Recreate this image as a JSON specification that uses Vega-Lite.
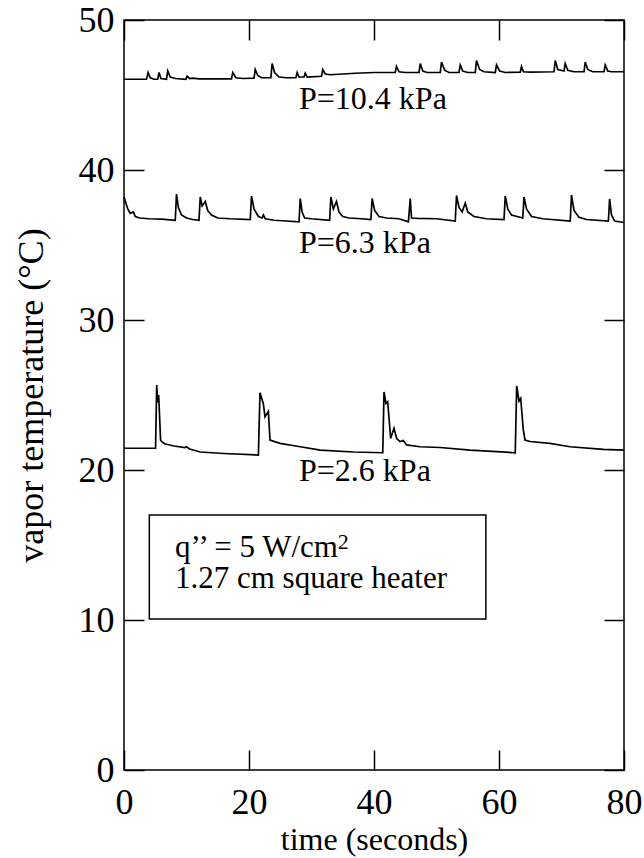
{
  "$schema": "https://vega.github.io/schema/vega-lite/v6.json",
  "width": 500,
  "height": 750,
  "autosize": {"type": "none"},
  "padding": {"left": 124, "top": 20, "right": 20, "bottom": 88},
  "background": "white",
  "config": {
    "font": "Liberation Serif, DejaVu Serif, serif",
    "view": {"stroke": "black", "strokeWidth": 1.5},
    "text": {"font": "Liberation Serif, DejaVu Serif, serif"},
    "axis": {
      "grid": false,
      "domain": false,
      "labelFont": "Liberation Serif, DejaVu Serif, serif",
      "titleFont": "Liberation Serif, DejaVu Serif, serif",
      "labelColor": "black",
      "titleColor": "black",
      "tickColor": "black",
      "tickWidth": 1.5,
      "tickSize": -20,
      "labelFontSize": 36,
      "titleFontSize": 32,
      "titleFontWeight": "normal",
      "labelFlush": false
    }
  },
  "datasets": {
    "series": [
      {"s":"a","t":0,"T":46.05},{"s":"a","t":3.6,"T":46.05},{"s":"a","t":3.85,"T":46.5},{"s":"a","t":4.2,"T":46.15},{"s":"a","t":4.8,"T":46.05},{"s":"a","t":5.4,"T":46.05},{"s":"a","t":5.6,"T":46.5},{"s":"a","t":5.9,"T":46.1},{"s":"a","t":6.8,"T":46.05},{"s":"a","t":7.0,"T":46.6},{"s":"a","t":7.4,"T":46.2},{"s":"a","t":8.2,"T":46.1},{"s":"a","t":9.9,"T":46.05},{"s":"a","t":10.1,"T":46.25},{"s":"a","t":10.5,"T":46.1},{"s":"a","t":11,"T":46.12},{"s":"a","t":12,"T":46.08},{"s":"a","t":14,"T":46.08},{"s":"a","t":17.2,"T":46.08},{"s":"a","t":17.4,"T":46.5},{"s":"a","t":17.9,"T":46.15},{"s":"a","t":19,"T":46.1},{"s":"a","t":20.8,"T":46.12},{"s":"a","t":21.0,"T":46.7},{"s":"a","t":21.4,"T":46.3},{"s":"a","t":22,"T":46.15},{"s":"a","t":23.5,"T":46.15},{"s":"a","t":23.7,"T":47.1},{"s":"a","t":24.1,"T":46.5},{"s":"a","t":24.8,"T":46.2},{"s":"a","t":26,"T":46.15},{"s":"a","t":27.5,"T":46.15},{"s":"a","t":27.7,"T":46.5},{"s":"a","t":28.0,"T":46.2},{"s":"a","t":28.8,"T":46.2},{"s":"a","t":29.0,"T":46.45},{"s":"a","t":29.3,"T":46.2},{"s":"a","t":31.6,"T":46.25},{"s":"a","t":31.8,"T":46.7},{"s":"a","t":32.2,"T":46.4},{"s":"a","t":33,"T":46.35},{"s":"a","t":35,"T":46.4},{"s":"a","t":37,"T":46.45},{"s":"a","t":40,"T":46.5},{"s":"a","t":43.4,"T":46.5},{"s":"a","t":43.6,"T":46.9},{"s":"a","t":44,"T":46.55},{"s":"a","t":45,"T":46.5},{"s":"a","t":47.2,"T":46.5},{"s":"a","t":47.4,"T":47.1},{"s":"a","t":47.8,"T":46.6},{"s":"a","t":48.5,"T":46.5},{"s":"a","t":50.6,"T":46.5},{"s":"a","t":50.8,"T":47.2},{"s":"a","t":51.3,"T":46.65},{"s":"a","t":52,"T":46.5},{"s":"a","t":53.6,"T":46.5},{"s":"a","t":53.8,"T":47.0},{"s":"a","t":54.2,"T":46.6},{"s":"a","t":55,"T":46.5},{"s":"a","t":56.2,"T":46.5},{"s":"a","t":56.4,"T":47.3},{"s":"a","t":56.9,"T":46.7},{"s":"a","t":57.6,"T":46.55},{"s":"a","t":59.4,"T":46.5},{"s":"a","t":59.6,"T":47.0},{"s":"a","t":60.1,"T":46.6},{"s":"a","t":61,"T":46.5},{"s":"a","t":63.4,"T":46.52},{"s":"a","t":63.6,"T":46.9},{"s":"a","t":63.9,"T":46.55},{"s":"a","t":65,"T":46.52},{"s":"a","t":68.8,"T":46.55},{"s":"a","t":69.0,"T":47.3},{"s":"a","t":69.4,"T":46.7},{"s":"a","t":70.4,"T":46.6},{"s":"a","t":70.6,"T":47.1},{"s":"a","t":71,"T":46.65},{"s":"a","t":72,"T":46.55},{"s":"a","t":73.6,"T":46.55},{"s":"a","t":73.8,"T":47.2},{"s":"a","t":74.2,"T":46.7},{"s":"a","t":75,"T":46.55},{"s":"a","t":76.8,"T":46.55},{"s":"a","t":77.0,"T":47.0},{"s":"a","t":77.4,"T":46.6},{"s":"a","t":78,"T":46.55},{"s":"a","t":80,"T":46.55},

      {"s":"b","t":0,"T":38.2},{"s":"b","t":0.3,"T":37.8},{"s":"b","t":0.6,"T":37.4},{"s":"b","t":1,"T":37.1},{"s":"b","t":1.5,"T":37.2},{"s":"b","t":1.8,"T":36.9},{"s":"b","t":2.5,"T":36.8},{"s":"b","t":4,"T":36.75},{"s":"b","t":6,"T":36.72},{"s":"b","t":8.2,"T":36.65},{"s":"b","t":8.4,"T":38.4},{"s":"b","t":8.7,"T":37.5},{"s":"b","t":9.2,"T":37.0},{"s":"b","t":10,"T":36.8},{"s":"b","t":11,"T":36.7},{"s":"b","t":12.0,"T":36.65},{"s":"b","t":12.2,"T":38.2},{"s":"b","t":12.5,"T":37.6},{"s":"b","t":13.0,"T":37.9},{"s":"b","t":13.4,"T":37.3},{"s":"b","t":14,"T":37.0},{"s":"b","t":15,"T":36.8},{"s":"b","t":17,"T":36.75},{"s":"b","t":20.2,"T":36.7},{"s":"b","t":20.4,"T":38.27},{"s":"b","t":20.8,"T":37.4},{"s":"b","t":21.5,"T":36.9},{"s":"b","t":22.1,"T":36.8},{"s":"b","t":22.3,"T":37.0},{"s":"b","t":22.6,"T":36.75},{"s":"b","t":24,"T":36.65},{"s":"b","t":26,"T":36.6},{"s":"b","t":28.0,"T":36.55},{"s":"b","t":28.2,"T":38.1},{"s":"b","t":28.5,"T":37.2},{"s":"b","t":28.9,"T":36.8},{"s":"b","t":30,"T":36.75},{"s":"b","t":32.9,"T":36.65},{"s":"b","t":33.1,"T":38.2},{"s":"b","t":33.5,"T":37.4},{"s":"b","t":34.0,"T":37.9},{"s":"b","t":34.4,"T":37.2},{"s":"b","t":35,"T":36.9},{"s":"b","t":36,"T":36.8},{"s":"b","t":38,"T":36.75},{"s":"b","t":39.5,"T":36.7},{"s":"b","t":39.7,"T":38.1},{"s":"b","t":40.1,"T":37.3},{"s":"b","t":40.8,"T":36.9},{"s":"b","t":42,"T":36.8},{"s":"b","t":44,"T":36.75},{"s":"b","t":45.5,"T":36.55},{"s":"b","t":45.8,"T":38.1},{"s":"b","t":46.0,"T":36.8},{"s":"b","t":47,"T":36.78},{"s":"b","t":50,"T":36.75},{"s":"b","t":53.0,"T":36.6},{"s":"b","t":53.2,"T":38.3},{"s":"b","t":53.6,"T":37.5},{"s":"b","t":54.1,"T":37.2},{"s":"b","t":54.6,"T":37.8},{"s":"b","t":55,"T":37.2},{"s":"b","t":56,"T":36.9},{"s":"b","t":58,"T":36.75},{"s":"b","t":60.8,"T":36.7},{"s":"b","t":61.0,"T":38.27},{"s":"b","t":61.4,"T":37.4},{"s":"b","t":62,"T":37.0},{"s":"b","t":63.8,"T":36.8},{"s":"b","t":64.0,"T":38.2},{"s":"b","t":64.4,"T":37.4},{"s":"b","t":65.2,"T":36.9},{"s":"b","t":67,"T":36.75},{"s":"b","t":71.4,"T":36.6},{"s":"b","t":71.6,"T":38.33},{"s":"b","t":72,"T":37.3},{"s":"b","t":72.8,"T":36.85},{"s":"b","t":74,"T":36.7},{"s":"b","t":77.5,"T":36.6},{"s":"b","t":77.7,"T":38.07},{"s":"b","t":78,"T":37.0},{"s":"b","t":78.5,"T":36.6},{"s":"b","t":80,"T":36.5},

      {"s":"c","t":0,"T":21.45},{"s":"c","t":2,"T":21.45},{"s":"c","t":5.05,"T":21.45},{"s":"c","t":5.23,"T":25.67},{"s":"c","t":5.4,"T":24.5},{"s":"c","t":5.55,"T":25.0},{"s":"c","t":5.85,"T":22.0},{"s":"c","t":6.0,"T":21.9},{"s":"c","t":6.5,"T":21.75},{"s":"c","t":8,"T":21.6},{"s":"c","t":9.76,"T":21.5},{"s":"c","t":10.0,"T":21.55},{"s":"c","t":10.5,"T":21.4},{"s":"c","t":12.2,"T":21.2},{"s":"c","t":16,"T":21.1},{"s":"c","t":21.5,"T":21.0},{"s":"c","t":21.76,"T":25.15},{"s":"c","t":22.3,"T":24.4},{"s":"c","t":22.56,"T":23.55},{"s":"c","t":23.1,"T":23.9},{"s":"c","t":23.36,"T":22.0},{"s":"c","t":24.96,"T":21.78},{"s":"c","t":28.2,"T":21.55},{"s":"c","t":31.4,"T":21.33},{"s":"c","t":36.7,"T":21.2},{"s":"c","t":41.4,"T":21.15},{"s":"c","t":41.6,"T":25.2},{"s":"c","t":41.92,"T":24.44},{"s":"c","t":42.19,"T":24.55},{"s":"c","t":42.67,"T":22.11},{"s":"c","t":43.2,"T":22.78},{"s":"c","t":43.63,"T":22.1},{"s":"c","t":44.16,"T":21.89},{"s":"c","t":44.69,"T":21.96},{"s":"c","t":45.2,"T":21.67},{"s":"c","t":47.36,"T":21.55},{"s":"c","t":50.56,"T":21.5},{"s":"c","t":55.36,"T":21.33},{"s":"c","t":62.6,"T":21.15},{"s":"c","t":62.83,"T":25.6},{"s":"c","t":63.2,"T":24.6},{"s":"c","t":63.47,"T":24.78},{"s":"c","t":63.89,"T":22.67},{"s":"c","t":64.16,"T":22.0},{"s":"c","t":64.96,"T":21.9},{"s":"c","t":68.16,"T":21.78},{"s":"c","t":71.36,"T":21.55},{"s":"c","t":76.7,"T":21.38},{"s":"c","t":80,"T":21.33}
    ],
    "labels": [
      {"t": 28.0, "T": 44.1, "label": "P=10.4 kPa"},
      {"t": 28.0, "T": 34.44, "label": "P=6.3 kPa"},
      {"t": 28.0, "T": 19.27, "label": "P=2.6 kPa"}
    ],
    "box": [{"t1": 4.05, "t2": 57.9, "T1": 10.07, "T2": 17.0}],
    "boxtext": [
      {"t": 8.16, "T": 14.22, "label": "q’’ = 5 W/cm"},
      {"t": 8.16, "T": 12.13, "label": "1.27 cm square heater"}
    ],
    "sup": [{"t": 34.2, "T": 14.75, "label": "2"}]
  },
  "layer": [
    {
      "data": {"name": "series"},
      "mark": {"type": "line", "color": "black", "strokeWidth": 1.7, "interpolate": "linear"},
      "encoding": {
        "x": {"field": "t", "type": "quantitative", "scale": {"domain": [0, 80], "nice": false},
              "axis": {"values": [0, 20, 40, 60, 80], "title": "time (seconds)", "labelPadding": 35, "titlePadding": 4}},
        "y": {"field": "T", "type": "quantitative", "scale": {"domain": [0, 50], "nice": false},
              "axis": {"values": [0, 10, 20, 30, 40, 50], "title": "vapor temperature (°C)", "titleFontSize": 36, "labelPadding": 30, "titlePadding": 28}},
        "detail": {"field": "s", "type": "nominal"}
      }
    },
    {
      "data": {"name": "box"},
      "mark": {"type": "rect", "fill": null, "stroke": "black", "strokeWidth": 1.5},
      "encoding": {
        "x": {"field": "t1", "type": "quantitative", "scale": {"domain": [0, 80], "nice": false},
              "axis": {"orient": "top", "values": [0, 20, 40, 60, 80], "labels": false, "title": null}},
        "x2": {"field": "t2"},
        "y": {"field": "T1", "type": "quantitative", "scale": {"domain": [0, 50], "nice": false},
              "axis": {"orient": "right", "values": [0, 10, 20, 30, 40, 50], "labels": false, "title": null}},
        "y2": {"field": "T2"}
      }
    },
    {
      "data": {"name": "labels"},
      "mark": {"type": "text", "align": "left", "baseline": "alphabetic", "fontSize": 32, "font": "Liberation Serif, DejaVu Serif, serif", "color": "black"},
      "encoding": {
        "x": {"field": "t", "type": "quantitative", "axis": null},
        "y": {"field": "T", "type": "quantitative", "axis": null},
        "text": {"field": "label"}
      }
    },
    {
      "data": {"name": "boxtext"},
      "mark": {"type": "text", "align": "left", "baseline": "alphabetic", "fontSize": 31, "font": "Liberation Serif, DejaVu Serif, serif", "color": "black"},
      "encoding": {
        "x": {"field": "t", "type": "quantitative", "axis": null},
        "y": {"field": "T", "type": "quantitative", "axis": null},
        "text": {"field": "label"}
      }
    },
    {
      "data": {"name": "sup"},
      "mark": {"type": "text", "align": "left", "baseline": "alphabetic", "fontSize": 22, "font": "Liberation Serif, DejaVu Serif, serif", "color": "black"},
      "encoding": {
        "x": {"field": "t", "type": "quantitative", "axis": null},
        "y": {"field": "T", "type": "quantitative", "axis": null},
        "text": {"field": "label"}
      }
    }
  ],
  "resolve": {"axis": {"x": "independent", "y": "independent"}}
}
